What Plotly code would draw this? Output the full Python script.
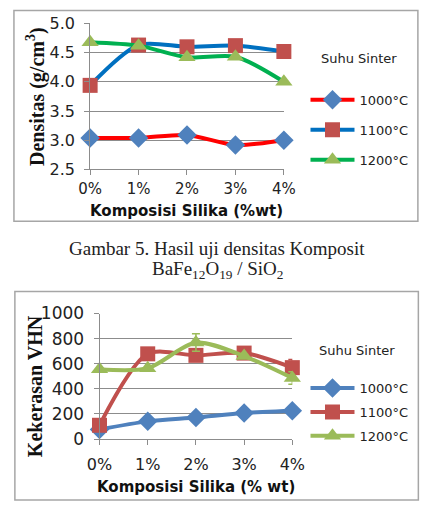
import plotly.graph_objects as go

W, H = 437, 507

categories = ["0%", "1%", "2%", "3%", "4%"]
series_names = ["1000°C", "1100°C", "1200°C"]

# Top chart: density (g/cm3)
dens_1000 = [3.04, 3.04, 3.09, 2.92, 3.00]
dens_1100 = [3.94, 4.63, 4.60, 4.62, 4.52]
dens_1200 = [4.68, 4.62, 4.42, 4.43, 4.00]

# Bottom chart: hardness (VHN)
hard_1000 = [77, 141, 172, 208, 226]
hard_1100 = [110, 679, 667, 685, 569]
hard_1200 = [556, 564, 769, 661, 487]
hard_1100_err = [0, 0, 0, 30, 65]
hard_1200_err = [0, 0, 70, 0, 50]

top_line_colors = ["#FF0000", "#0070C0", "#00B050"]
bot_line_colors = ["#4F81BD", "#C0504D", "#9BBB59"]
marker_colors = ["#4F81BD", "#C0504D", "#9BBB59"]
symbols = ["diamond", "square", "triangle-up"]
msizes = [15, 15, 15]


def px(x):
    return x / W


def py(y):
    return 1 - y / H


fig = go.Figure()

top_vals = [dens_1000, dens_1100, dens_1200]
for i, vals in enumerate(top_vals):
    fig.add_trace(go.Scatter(
        x=categories, y=vals, name=series_names[i], mode="lines+markers",
        line=dict(color=top_line_colors[i], width=4, shape="spline", smoothing=0.8),
        marker=dict(color=marker_colors[i], symbol=symbols[i], size=msizes[i]),
        xaxis="x", yaxis="y", legend="legend", legendgroup="t%d" % i,
        cliponaxis=False,
    ))

bot_vals = [hard_1000, hard_1100, hard_1200]
bot_err = [None, hard_1100_err, hard_1200_err]
for i, vals in enumerate(bot_vals):
    err = None
    if bot_err[i] is not None:
        err = dict(type="data", array=bot_err[i], color=bot_line_colors[i],
                   thickness=1.5, width=4, visible=True)
    fig.add_trace(go.Scatter(
        x=categories, y=vals, name=series_names[i], mode="lines+markers",
        line=dict(color=bot_line_colors[i], width=4, shape="spline", smoothing=0.8),
        marker=dict(color=marker_colors[i], symbol=symbols[i], size=msizes[i]),
        error_y=err,
        xaxis="x2", yaxis="y2", legend="legend2", legendgroup="b%d" % i,
        cliponaxis=False,
    ))

tickfont = dict(family="DejaVu Sans", size=16, color="#222")
axis_common = dict(showline=True, linecolor="#8c8c8c", linewidth=1,
                   ticks="outside", ticklen=5, tickcolor="#8c8c8c",
                   zeroline=False)

fig.update_layout(
    width=W, height=H, margin=dict(l=0, r=0, t=0, b=0),
    paper_bgcolor="white", plot_bgcolor="white",
    xaxis=dict(domain=[px(82), px(288)], anchor="y", range=[0, 4],
               type="category", showgrid=False,
               tickfont=dict(family="DejaVu Sans", size=15, color="#222"),
               ticklabelstandoff=1, **axis_common),
    yaxis=dict(domain=[py(166), py(14)], anchor="x", range=[2.5, 5.0],
               dtick=0.5, tickformat=".1f", showgrid=True, tickfont=tickfont,
               ticklabelstandoff=6,
               gridcolor="#8c8c8c", gridwidth=1, **axis_common),
    xaxis2=dict(domain=[px(92), px(297)], anchor="y2", range=[0, 4],
                type="category", showgrid=False, tickfont=tickfont,
                ticklabelstandoff=6, **axis_common),
    yaxis2=dict(domain=[py(446.7), py(316)], anchor="x2", range=[0, 1000],
                dtick=200, showgrid=True, gridcolor="#8c8c8c", gridwidth=1,
                tickfont=dict(family="DejaVu Sans", size=17, color="#222"),
                ticklabelstandoff=6, **axis_common),
    legend=dict(x=px(311), y=py(78), xanchor="left", yanchor="top",
                font=dict(family="DejaVu Sans", size=13, color="#222"),
                tracegroupgap=10, itemwidth=44, bgcolor="rgba(0,0,0,0)"),
    legend2=dict(x=px(311), y=py(378), xanchor="left", yanchor="top",
                 font=dict(family="DejaVu Sans", size=13, color="#222"),
                 tracegroupgap=4, itemwidth=44, bgcolor="rgba(0,0,0,0)"),
    showlegend=True,
)

shapes = [
    dict(type="rect", xref="paper", yref="paper", x0=px(1), x1=px(430.5),
         y0=py(220), y1=py(0.5), line=dict(color="#a6a6a6", width=1.5)),
    dict(type="rect", xref="paper", yref="paper", x0=px(2), x1=px(431),
         y0=py(510), y1=py(293), line=dict(color="#a6a6a6", width=1.5)),
]
fig.update_layout(shapes=shapes)

ann = [
    dict(text="Suhu Sinter", x=px(368), y=py(51), font=dict(family="DejaVu Sans", size=13, color="#222")),
    dict(text="Suhu Sinter", x=px(366), y=py(355), font=dict(family="DejaVu Sans", size=13, color="#222")),
    dict(text="<b>Densitas (g/cm<sup>3</sup>)</b>", x=px(24), y=py(90), textangle=-90,
         font=dict(family="Liberation Serif", size=20, color="#111")),
    dict(text="<b>Kekerasan VHN</b>", x=px(23), y=py(392), textangle=-90,
         font=dict(family="Liberation Serif", size=20, color="#111")),
    dict(text="<b>Komposisi Silika (%wt)</b>", x=px(185), y=py(209),
         font=dict(family="DejaVu Sans", size=15, color="#111")),
    dict(text="<b>Komposisi Silika (% wt)</b>", x=px(195), y=py(497),
         font=dict(family="DejaVu Sans", size=15, color="#111")),
    dict(text="Gambar 5. Hasil uji densitas Komposit", x=px(217), y=py(248),
         font=dict(family="Liberation Serif", size=19, color="#222")),
    dict(text="BaFe<sub>12</sub>O<sub>19</sub> / SiO<sub>2</sub>", x=px(217), y=py(271),
         font=dict(family="Liberation Serif", size=19, color="#222")),
]
for a in ann:
    a.update(xref="paper", yref="paper", showarrow=False, xanchor="center", yanchor="middle")
fig.update_layout(annotations=ann)

fig.write_html("out.html")
